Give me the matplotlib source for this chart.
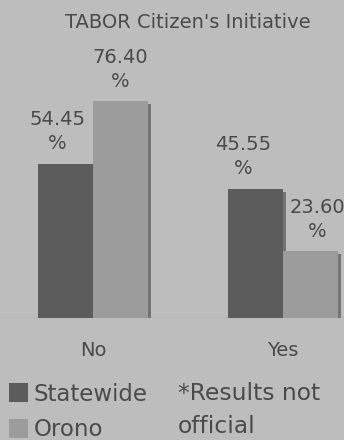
import matplotlib.pyplot as plt
import numpy as np

###############################################
### Datos

categories = ['No', 'Yes']
statewide = [54.45, 45.55]
orono = [76.40, 23.60]
series_names = ['Statewide', 'Orono']
note_lines = ['*Results not', 'official']
title = "TABOR Citizen's Initiative"

###############################################
### Estilo

bg = '#bdbdbd'
c_state = '#5c5c5c'
c_orono = '#9c9c9c'
c_shadow = '#747474'
c_text = '#4a4a4a'
PX = 0.72  # puntos por pixel a 100 dpi

fig = plt.figure(figsize=(3.44, 4.40), dpi=100, facecolor=bg)
ax = fig.add_axes([0.0, 0.277, 1.0, 0.645])
ax.set_facecolor(bg)

x = np.arange(len(categories))
w = 0.29
off = 0.145

# sombras
sx = 3 / 190.0
sy = 3 / 2.84
for xs, vals in ((x - off, statewide), (x + off, orono)):
    ax.bar(xs + sx, np.array(vals) - sy, w, bottom=0, color=c_shadow,
           linewidth=0, zorder=1)

b1 = ax.bar(x - off, statewide, w, color=c_state, linewidth=0, zorder=2,
            label=series_names[0])
b2 = ax.bar(x + off, orono, w, color=c_orono, linewidth=0, zorder=2,
            label=series_names[1])

# etiquetas de valores
label_dx = [[-8, -12], [0, 7]]
for j, (bars, vals) in enumerate(((b1, statewide), (b2, orono))):
    for i, (rect, v) in enumerate(zip(bars, vals)):
        cx = rect.get_x() + rect.get_width() / 2
        dx = label_dx[j][i] * PX
        ax.annotate('%.2f' % v, (cx, v), xytext=(dx, 44 * PX),
                    textcoords='offset points', ha='center', va='center',
                    fontsize=14, color=c_text, annotation_clip=False)
        ax.annotate('%', (cx, v), xytext=(dx, 20 * PX),
                    textcoords='offset points', ha='center', va='center',
                    fontsize=14, color=c_text, annotation_clip=False)

ax.set_xlim(-93 / 190.0, 251 / 190.0)
ax.set_ylim(0, 100)
ax.axhline(0, color='#a6a6a6', linewidth=1, zorder=0)
for s in ax.spines.values():
    s.set_visible(False)
ax.set_yticks([])
ax.set_xticks(x)
ax.set_xticklabels(categories, fontsize=14, color=c_text)
ax.tick_params(axis='x', length=0, pad=16.5)

###############################################
### Notas

fig.text(0.547, 1 - 22 / 440.0, title, ha='center', va='center',
         fontsize=14, color=c_text)

leg = fig.legend(handles=[b1, b2], loc='upper left',
                 bbox_to_anchor=(4 / 344.0, 1 - 378 / 440.0), frameon=False,
                 fontsize=16.5, handlelength=0.85, handleheight=0.9,
                 handletextpad=0.25, labelspacing=0.54, borderaxespad=0,
                 borderpad=0.2)
for t in leg.get_texts():
    t.set_color(c_text)

for k, line in enumerate(note_lines):
    fig.text(178 / 344.0, 1 - (393 + 33 * k) / 440.0, line, ha='left',
             va='center', fontsize=16.8, color=c_text)

plt.savefig('out.png', dpi=100, facecolor=bg)
